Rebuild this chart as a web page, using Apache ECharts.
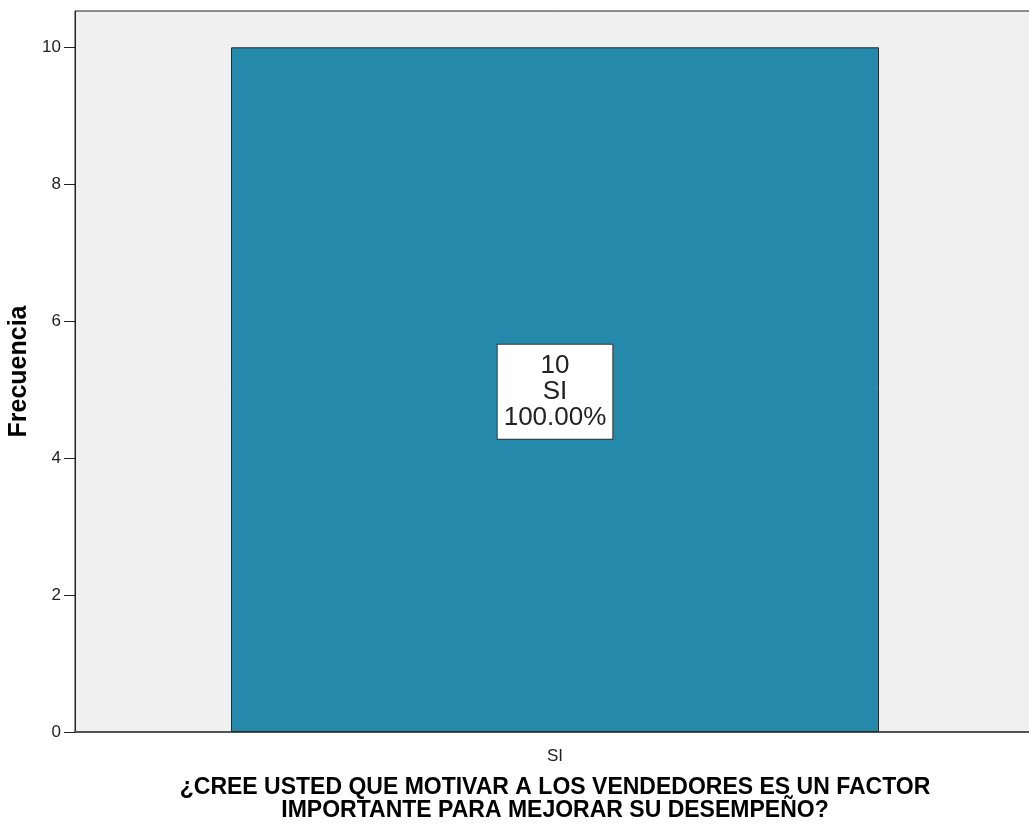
<!DOCTYPE html>
<html>
<head>
<meta charset="utf-8">
<script src="https://cdn.jsdelivr.net/npm/echarts@6/dist/echarts.min.js"></script>
<style>
  html, body { margin: 0; padding: 0; background: #fff; }
  #chart { width: 1029px; height: 825px; }
</style>
</head>
<body>
<div id="chart"></div>
<script>
// datos del gráfico
const categories = ['SI']
const frecuencias = [10]
const porcentajes = ['100.00%']
const yTicks = [0, 2, 4, 6, 8, 10]

const chart = echarts.init(document.getElementById('chart'))

chart.setOption({
  animation: false,
  textStyle: { fontFamily: 'Liberation Sans, Arial, sans-serif' },
  grid: {
    left: 75,
    top: 11,
    right: -6,
    bottom: 93,
    containLabel: false,
    outerBoundsMode: 'none',
    show: true,
    backgroundColor: '#f0f0f0',
    borderColor: '#222',
    borderWidth: 1
  },
  xAxis: {
    type: 'category',
    data: categories,
    name: '¿CREE USTED QUE MOTIVAR A LOS VENDEDORES ES UN FACTOR\nIMPORTANTE PARA MEJORAR SU DESEMPEÑO?',
    nameLocation: 'middle',
    nameGap: 44,
    nameTextStyle: { fontSize: 23, fontWeight: 'bold', color: '#000', lineHeight: 23 },
    axisLine: { lineStyle: { color: '#555', width: 2 } },
    axisTick: { alignWithLabel: true, length: 12, lineStyle: { color: '#222' } },
    axisLabel: { fontSize: 17, color: '#222', margin: 16 }
  },
  yAxis: {
    type: 'value',
    min: 0,
    max: 10.53,
    interval: 2,
    name: 'Frecuencia',
    nameLocation: 'middle',
    nameGap: 38,
    nameTextStyle: { fontSize: 25, fontWeight: 'bold', color: '#000' },
    axisLine: { show: true, lineStyle: { color: '#222' } },
    axisTick: { show: true, length: 11, customValues: yTicks, lineStyle: { color: '#222' } },
    axisLabel: { fontSize: 17, color: '#222', margin: 14, customValues: yTicks },
    splitLine: { show: false }
  },
  series: [
    {
      type: 'bar',
      data: frecuencias,
      barWidth: '67.5%',
      itemStyle: { color: '#2589ab', borderColor: '#2a2a2a', borderWidth: 1 },
      label: {
        show: true,
        position: 'inside',
        offset: [0, 2],
        formatter: p => p.value + '\n' + categories[p.dataIndex] + '\n' + porcentajes[p.dataIndex],
        color: '#222',
        fontSize: 26,
        lineHeight: 26,
        backgroundColor: '#fff',
        borderColor: '#333',
        borderWidth: 1,
        padding: [7, 6, 9, 6]
      }
    }
  ]
})
</script>
</body>
</html>
